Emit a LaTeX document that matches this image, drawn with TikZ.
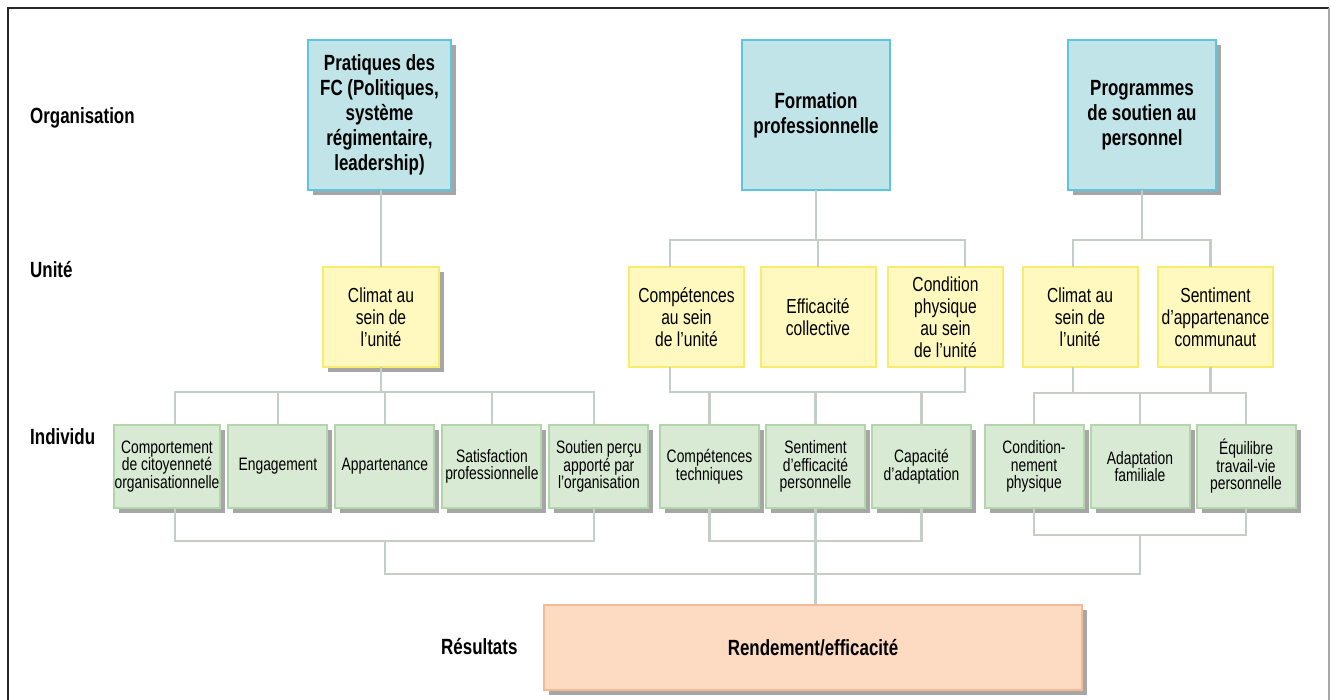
\documentclass[tikz,border=0pt]{standalone}
\usepackage{fontspec}
\setmainfont{Liberation Sans}[FakeStretch=0.77]
\usetikzlibrary{positioning,shadows}

\definecolor{orgfill}{HTML}{C0E4E8}
\definecolor{orgline}{HTML}{5DC5E0}
\definecolor{unitfill}{HTML}{FFF9BF}
\definecolor{unitline}{HTML}{F8EC6A}
\definecolor{indfill}{HTML}{D8EAD3}
\definecolor{indline}{HTML}{B3D5AC}
\definecolor{resfill}{HTML}{FDDBC3}
\definecolor{resline}{HTML}{F4B995}
\definecolor{wirecol}{HTML}{C6CDC6}

\begin{document}
\begin{tikzpicture}[x=1pt,y=-1pt,
    box/.style={draw, line width=2pt, align=center, inner sep=1pt, outer sep=0pt},
    shade/.style={drop shadow={shadow xshift=5pt, shadow yshift=-5pt, fill=black, opacity=0.35}},
    org/.style={box, fill=orgfill, draw=orgline, minimum height=150pt,
      font=\bfseries\fontsize{22}{25}\selectfont},
    unit/.style={box, fill=unitfill, draw=unitline, minimum width=115pt, minimum height=100pt,
      font=\fontsize{20.3}{22}\selectfont},
    indiv/.style={box, fill=indfill, draw=indline, minimum width=99pt, minimum height=83pt,
      font=\fontsize{18}{17.5}\selectfont, shade},
    result/.style={box, fill=resfill, draw=resline, minimum width=538pt, minimum height=85pt,
      font=\bfseries\fontsize{22}{23}\selectfont, shade},
    level/.style={anchor=west, inner sep=0pt, font=\bfseries\fontsize{22}{23}\selectfont},
    wire/.style={draw=wirecol, line width=2.4pt}]
  \useasboundingbox (0,0) rectangle (1331,700);
  % frame
  \draw[black!85, line width=2pt] (8,720) -- (8,8) -- (1329,8);
  \draw[black!35, line width=1.2pt] (1329,8) -- (1329,720);

  % levels
  \node[level] (lorg) at (30,118) {Organisation};
  \node[level] (lunit) at (30,270) {Unité};
  \node[level] (lind) at (30,437) {Individu};
  \node[level] (lres) at (441,647) {Résultats};

  % organisation
  \node[org, minimum width=143pt, shade] (fc) at (379.5,115)
    {Pratiques des\\FC (Politiques,\\système\\régimentaire,\\leadership)};
  \node[org, minimum width=148pt] (train) at (816,115) {Formation\\professionnelle};
  \node[org, minimum width=148pt, shade] (support) at (1142,115)
    {Programmes\\de soutien au\\personnel};

  % unit
  \node[unit, minimum width=116pt, shade] (climA) at (381,317) {Climat au\\sein de\\l’unité};
  \node[unit] (skill) at (686.5,317) {Compétences\\au sein\\de l’unité};
  \node[unit] (effic) at (818,317) {Efficacité\\collective};
  \node[unit] (fit) at (945.5,317) {Condition\\physique\\au sein\\de l’unité};
  \node[unit] (climB) at (1080,317) {Climat au\\sein de\\l’unité};
  \node[unit] (belong) at (1215.5,317) {Sentiment\\d’appartenance\\communaut};

  % individual
  \node[indiv, minimum width=104pt] (ocb) at (167,466.5)
    {Comportement\\de citoyenneté\\organisationnelle};
  \node[indiv] (engage) [right=8pt of ocb] {Engagement};
  \node[indiv] (member) [right=8pt of engage] {Appartenance};
  \node[indiv] (satisf) [right=8pt of member] {Satisfaction\\professionnelle};
  \node[indiv] (percsup) [right=8pt of satisf] {Soutien perçu\\apporté par\\l’organisation};
  \node[indiv] (tech) at (709.5,466.5) {Compétences\\techniques};
  \node[indiv] (selfeff) [right=7pt of tech] {Sentiment\\d’efficacité\\personnelle};
  \node[indiv] (adapt) [right=7pt of selfeff] {Capacité\\d’adaptation};
  \node[indiv] (physcond) at (1034,466.5) {Condition-\\nement\\physique};
  \node[indiv] (family) [right=7pt of physcond] {Adaptation\\familiale};
  \node[indiv] (balance) [right=7pt of family] {Équilibre\\travail-vie\\personnelle};

  % result
  \node[result] (perf) at (813,647.5) {Rendement/efficacité};

  % organisation -> unit
  \path[wire] (climA.north) -- (climA.north |- fc.south);
  \path[wire] (train.south) -- ++(0,50) coordinate (tbus);
  \path[wire] ([xshift=-16.5pt]skill.north) |- (tbus) -| ([xshift=19.5pt]fit.north);
  \path[wire] (effic.north) -- (effic.north |- tbus);
  \path[wire] (support.south) -- ++(0,50) coordinate (sbus);
  \path[wire] ([xshift=-7pt]climB.north) |- (sbus) -| ([xshift=-5pt]belong.north);

  % unit -> individual
  \path[wire] (climA.south) -- ++(0,25) coordinate (abus);
  \path[wire] ([xshift=8pt]ocb.north) |- (abus) -| ([xshift=-5pt]percsup.north);
  \path[wire] (engage.north) -- (engage.north |- abus);
  \path[wire] (member.north) -- (member.north |- abus);
  \path[wire] (satisf.north) -- (satisf.north |- abus);
  \coordinate (mbus) at ([yshift=-25pt]effic.south);
  \path[wire] ([xshift=-16.5pt]skill.south) |- (mbus) -| ([xshift=19.5pt]fit.south);
  \path[wire] (tech.north) -- (tech.north |- mbus);
  \path[wire] (selfeff.north) -- (selfeff.north |- mbus);
  \path[wire] (adapt.north) -- (adapt.north |- mbus);
  \coordinate (rbus) at ([yshift=32pt]family.north);
  \path[wire] (physcond.north) |- (rbus) -| (balance.north);
  \path[wire] (family.north) -- (rbus);
  \path[wire] ([xshift=-7pt]climB.south) -- ([xshift=-7pt]climB.south |- rbus);
  \path[wire] ([xshift=-5pt]belong.south) -- ([xshift=-5pt]belong.south |- rbus);

  % individual -> result
  \coordinate (lbus) at ([yshift=-33pt]member.south);
  \path[wire] ([xshift=8pt]ocb.south) |- (lbus) -| ([xshift=-5pt]percsup.south);
  \coordinate (mlow) at ([yshift=-33pt]selfeff.south);
  \path[wire] (tech.south) |- (mlow) -| (adapt.south);
  \path[wire] (selfeff.south) -- (selfeff.south |- perf.north);
  \coordinate (rlow) at ([yshift=-27pt]family.south);
  \path[wire] (physcond.south) |- (rlow) -| (balance.south);
  \path[wire] (lbus) -- ++(0,33) -| (rlow);
\end{tikzpicture}
\end{document}
